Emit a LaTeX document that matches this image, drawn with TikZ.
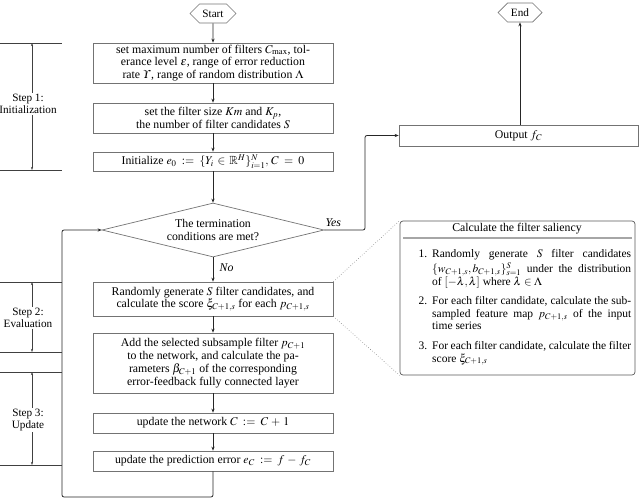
\documentclass[tikz,border=0pt]{standalone}
\usepackage{amsmath,amssymb}
\usepackage{mathptmx}
\usepackage{fontspec}
\setmainfont{Liberation Serif}
\usetikzlibrary{shapes.geometric,shapes.symbols,arrows.meta}
\newcommand{\salitem}[2]{\par\noindent\hangindent=14pt\hangafter=1\strut\makebox[14pt][l]{\hspace{0.5pt}#1}#2\par}
\begin{document}
\begin{tikzpicture}[x=1pt,y=-1pt,
  font=\fontsize{11.8}{12.8}\selectfont,
  box/.style={draw=black!55, line width=0.7pt, align=center, inner sep=0pt, minimum width=240pt},
  hexa/.style={draw=black!55, line width=0.7pt, signal, signal to=west and east, minimum width=46pt, minimum height=19pt, inner sep=1pt, font=\fontsize{11.2}{12}\selectfont},
  conn/.style={draw=black!85, line width=0.8pt, rounded corners=2pt, -{Stealth[length=4pt,width=3.2pt]}},
  stepline/.style={draw=black!75, line width=0.6pt},
  steparrow/.style={draw=black!75, line width=0.4pt, {Stealth[length=3pt,width=2pt]}-{Stealth[length=3pt,width=2pt]}},
  steplabel/.style={fill=white, align=center, inner sep=1pt, font=\fontsize{11.2}{12.2}\selectfont},
  dots/.style={draw=black!50, dotted, line width=0.6pt}]
\useasboundingbox (0,0) rectangle (640,498);

% main column
\node[hexa] (start) at (213,13.5) {Start};
\node[box, minimum height=40pt] (b1) at (213,63)
  {set maximum number of filters $C_{\max}$, tol-\\erance level $\epsilon$, range of error reduction\\rate $\varUpsilon$, range of random distribution $\Lambda$};
\node[box, minimum height=30pt] (b2) at (213,118)
  {set the filter size $Km$ and $K_p$,\\the number of filter candidates $S$};
\node[box, minimum height=19pt] (b3) at (213,161.5)
  {Initialize $e_0 \;:=\; \{Y_i \,\in\, \mathbb{R}^H\}_{i=1}^N,\, C \;=\; 0$};
\node[draw=black!55, line width=0.7pt, diamond, aspect=4.1, minimum width=222pt, minimum height=54pt, inner sep=0pt, align=center] (dia) at (213,230)
  {The termination\\conditions are met?};
\node[box, minimum height=34pt] (b4) at (213,299)
  {Randomly generate $S$ filter candidates, and\\calculate the score $\xi_{C+1,s}$ for each $p_{C+1,s}$};
\node[box, minimum height=60pt] (b5) at (213,363)
  {Add the selected subsample filter $p_{C+1}$\\to the network, and calculate the pa-\\rameters $\beta_{C+1}$ of the corresponding\\error-feedback fully connected layer};
\node[box, minimum height=20pt] (b6) at (213,423)
  {update the network $C \;:=\; C \,+\, 1$};
\node[box, minimum height=20pt] (b7) at (213,461)
  {update the prediction error $e_C \;:=\; f \,-\, f_C$};

% right column
\node[box, minimum width=239pt, minimum height=21pt] (out) at (518.5,135.5) {Output $f_C$};
\node[hexa, minimum width=44pt] (end) at (520,12.5) {End};

% connectors
\draw[conn] (start) -- (b1);
\draw[conn] (b1) -- (b2);
\draw[conn] (b2) -- (b3);
\draw[conn] (b3) -- (dia);
\draw[conn] (dia) -- node[right, pos=0.42, xshift=3pt] {\textit{No}} (b4);
\draw[conn] (b4) -- (b5);
\draw[conn] (b5) -- (b6);
\draw[conn] (b6) -- (b7);
\coordinate (loopB) at (62,497);
\coordinate (loopC) at (62,230);
\draw[conn] (b7.south) -- (b7.south |- loopB) -- (loopB) -- (loopC) -- (dia.west);
\coordinate (yesc) at (365,180);
\draw[conn] (dia.east) -| (yesc) |- (out.west);
\node[above right, inner sep=1pt, xshift=0pt, yshift=2pt] (yes) at (dia.east) {\textit{Yes}};
\draw[conn] (out.north -| end) -- (end.south);

% step annotations
\foreach \yy in {43,170,282,352,372,465}
  \draw[stepline] (0,\yy) -- (62,\yy);
\draw[steparrow] (32,43) -- (32,170);
\draw[steparrow] (32,282) -- (32,352);
\draw[steparrow] (32,372) -- (32,465);
\node[steplabel] (s1) at (28,104) {Step 1:\\Initialization};
\node[steplabel] (s2) at (28,318) {Step 2:\\Evaluation};
\node[steplabel] (s3) at (28,420) {Step 3:\\Update};

% saliency box
\node[draw=black!65, line width=0.7pt, rounded corners=3pt, minimum width=235pt, minimum height=154pt, inner sep=0pt] (sal) at (517.5,298) {};
\node (saltitle) at (517,229) {Calculate the filter saliency};
\draw[draw=black!35, line width=1.5pt] (403,238) -- (632,238);
\node[anchor=north west, inner sep=0pt, text width=213pt, align=justify, font=\fontsize{11.5}{12.6}\selectfont] (sallist) at (418,245) {%
\salitem{1.}{Randomly generate $S$ filter candidates\linebreak $\{w_{C+1,s}, b_{C+1,s}\}_{s=1}^S$ under the distribution\linebreak of $[-\lambda,\lambda]$ where $\lambda\in\Lambda$}\vspace{7pt}
\salitem{2.}{For each filter candidate, calculate the sub-\linebreak sampled feature map $p_{C+1,s}$ of the input\linebreak time series}\vspace{7pt}
\salitem{3.}{For each filter candidate, calculate the filter\linebreak score $\xi_{C+1,s}$}};
\draw[dots] (b4.north east) -- (sal.north west);
\draw[dots] (b4.south east) -- (sal.south west);
\end{tikzpicture}
\end{document}
